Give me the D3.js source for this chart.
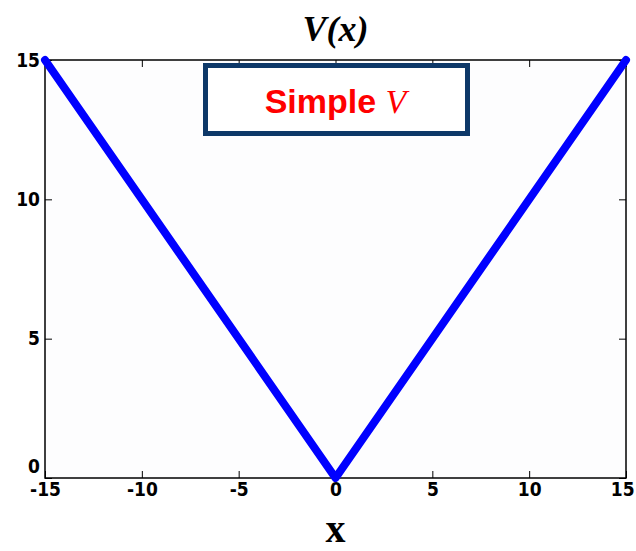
<!DOCTYPE html>
<html>
<head>
<meta charset="utf-8">
<script src="https://cdn.jsdelivr.net/npm/d3@7/dist/d3.min.js"></script>
<style>
  body { margin: 0; background: #fff; }
  .tick text { font-family: "DejaVu Sans Condensed", "Liberation Sans Narrow", sans-serif; font-stretch: condensed; font-weight: bold; font-size: 19px; fill: #000; }
</style>
</head>
<body>
<div id="chart"></div>
<script>

// Data
var x_values = [ -15, 0, 15 ];
var y_values = [ 15, 0, 15 ];
var x_ticks = [ -15, -10, -5, 0, 5, 10, 15 ];
var y_ticks = [ 0, 5, 10, 15 ];
var title = 'V(x)';
var x_label = 'x';
var legend_text = 'Simple ';
var legend_symbol = 'V';

var w = 636, h = 551;
var margin = {top: 60, right: 10, bottom: 73, left: 45};
var width = w - margin.left - margin.right;
var height = h - margin.top - margin.bottom;

var x = d3.scaleLinear().domain( [-15, 15] ).range( [0, width] );
var y = d3.scaleLinear().domain( [0, 15] ).range( [height, 0] );

// plain hyphen for negatives, like the original
var fmt = function ( d ) { return String( d ); };

var svg = d3.select( '#chart' )
            .append( 'svg' )
            .attr( 'width', w )
            .attr( 'height', h );

var g = svg.append( 'g' )
           .attr( 'transform', 'translate(' + margin.left + ',' + margin.top + ')' );

// Plot area background
g.append( 'rect' )
    .attr( 'width', width )
    .attr( 'height', height )
    .attr( 'fill', '#fdfdfe' );

// Axes (ticks pointing inward, like matlab)
var xa = g.append( 'g' )
    .attr( 'transform', 'translate(0,' + height + ')' )
    .call( d3.axisBottom( x ).tickValues( x_ticks ).tickFormat( fmt ).tickSizeInner( -7 ).tickSizeOuter( 0 ).tickPadding( 5 ) )
    .call( function ( a ) { a.select( '.domain' ).remove(); } );

// keep the last label inside the window
xa.selectAll( '.tick text' ).filter( function ( d ) { return d === 15; } ).attr( 'dx', '-0.2em' );

g.append( 'g' )
    .call( d3.axisTop( x ).tickValues( x_ticks ).tickSizeInner( -7 ).tickSizeOuter( 0 ).tickFormat( '' ) )
    .call( function ( a ) { a.select( '.domain' ).remove(); } );

var ya = g.append( 'g' )
    .call( d3.axisLeft( y ).tickValues( y_ticks ).tickFormat( fmt ).tickSizeInner( -7 ).tickSizeOuter( 0 ).tickPadding( 5 ) )
    .call( function ( a ) { a.select( '.domain' ).remove(); } );

// lift the 0 so it does not sit on the -15
ya.selectAll( '.tick text' ).filter( function ( d ) { return d === 0; } ).attr( 'dy', '-0.3em' );

g.append( 'g' )
    .attr( 'transform', 'translate(' + width + ',0)' )
    .call( d3.axisRight( y ).tickValues( y_ticks ).tickSizeInner( -7 ).tickSizeOuter( 0 ).tickFormat( '' ) )
    .call( function ( a ) { a.select( '.domain' ).remove(); } );

g.selectAll( '.tick line' ).attr( 'stroke', '#000' ).attr( 'stroke-width', 1 );

// Frame
g.append( 'rect' )
    .attr( 'width', width )
    .attr( 'height', height )
    .attr( 'fill', 'none' )
    .attr( 'stroke', '#000' )
    .attr( 'stroke-width', 1.5 );

// The V line
var data = d3.zip( x_values, y_values );
var line = d3.line()
             .x( function ( d ) { return x( d[0] ); } )
             .y( function ( d ) { return y( d[1] ); } );

g.append( 'path' )
    .datum( data )
    .attr( 'd', line )
    .attr( 'fill', 'none' )
    .attr( 'stroke', '#0000ff' )
    .attr( 'stroke-width', 8 )
    .attr( 'stroke-linecap', 'round' )
    .attr( 'stroke-linejoin', 'round' );

// Legend box
var box = g.append( 'g' ).attr( 'transform', 'translate(' + ( x( 0 ) ) + ',' + 0 + ')' );
box.append( 'rect' )
    .attr( 'x', -130 )
    .attr( 'y', 5.5 )
    .attr( 'width', 262 )
    .attr( 'height', 68 )
    .attr( 'fill', '#fff' )
    .attr( 'stroke', '#0d3868' )
    .attr( 'stroke-width', 5 );

var lt = box.append( 'text' )
    .attr( 'x', 0 )
    .attr( 'y', 53 )
    .attr( 'text-anchor', 'middle' )
    .attr( 'fill', '#ff0000' )
    .style( 'font-family', '"Liberation Sans", Arial, sans-serif' )
    .style( 'font-weight', 'bold' )
    .style( 'font-size', '34px' );
lt.append( 'tspan' ).text( legend_text );
lt.append( 'tspan' )
    .style( 'font-family', '"Liberation Serif", "Times New Roman", serif' )
    .style( 'font-style', 'italic' )
    .style( 'font-weight', 'normal' )
    .text( legend_symbol );

// Title
svg.append( 'text' )
    .attr( 'x', margin.left + width / 2 )
    .attr( 'y', 41 )
    .attr( 'text-anchor', 'middle' )
    .style( 'font-family', '"Liberation Serif", "Times New Roman", serif' )
    .style( 'font-weight', 'bold' )
    .style( 'font-style', 'italic' )
    .style( 'font-size', '36px' )
    .text( title );

// x label
svg.append( 'text' )
    .attr( 'x', margin.left + width / 2 )
    .attr( 'y', 542 )
    .attr( 'text-anchor', 'middle' )
    .style( 'font-family', '"Liberation Serif", "Times New Roman", serif' )
    .style( 'font-weight', 'bold' )
    .style( 'font-size', '40px' )
    .text( x_label );

</script>
</body>
</html>
